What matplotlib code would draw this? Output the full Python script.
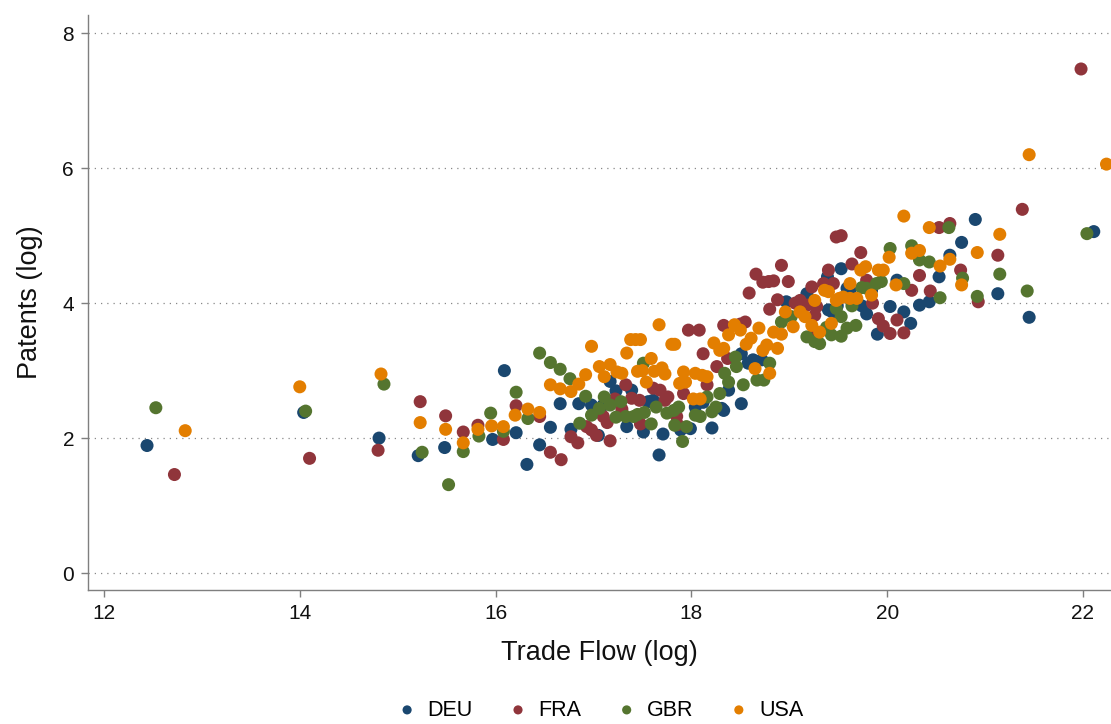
import matplotlib
matplotlib.use('Agg')
import matplotlib.pyplot as plt

plt.rcParams['font.family'] = ['Liberation Sans', 'DejaVu Sans']

# Data: (log trade flow, log patents) per country
deu_x = [12.44, 14.04, 14.81, 15.21, 15.48, 15.97, 16.09, 16.21, 16.32, 16.45, 16.56, 16.66,
         16.77, 16.85, 16.98, 17.05, 17.10, 17.17, 17.23, 17.34, 17.39, 17.51, 17.56, 17.61,
         17.67, 17.71, 17.89, 17.99, 18.04, 18.12, 18.21, 18.31, 18.33, 18.38, 18.51, 18.51,
         18.58, 18.63, 18.72, 18.97, 19.18, 19.39, 19.40, 19.44, 19.49, 19.53, 19.59, 19.62,
         19.74, 19.79, 19.84, 19.90, 20.03, 20.10, 20.17, 20.24, 20.33, 20.43, 20.53, 20.64,
         20.76, 20.90, 21.13, 21.45, 22.11]
deu_y = [1.89, 2.38, 2.00, 1.74, 1.86, 1.98, 3.00, 2.08, 1.61, 1.90, 2.16, 2.51,
         2.13, 2.51, 2.49, 2.04, 2.49, 2.84, 2.70, 2.17, 2.71, 2.09, 2.54, 2.56,
         1.75, 2.06, 2.12, 2.14, 2.46, 2.53, 2.15, 2.44, 2.41, 2.71, 3.25, 2.51,
         3.11, 3.16, 3.16, 4.02, 4.14, 4.39, 3.90, 3.87, 3.96, 4.51, 4.22, 4.19,
         3.96, 3.84, 4.19, 3.54, 3.95, 4.34, 3.87, 3.70, 3.97, 4.02, 4.39, 4.71,
         4.90, 5.24, 4.14, 3.79, 5.06]

fra_x = [12.72, 14.10, 14.80, 15.23, 15.49, 15.67, 15.82, 16.08, 16.21, 16.45, 16.56, 16.67,
         16.77, 16.84, 16.93, 16.98, 17.03, 17.10, 17.14, 17.17, 17.22, 17.29, 17.33, 17.39,
         17.47, 17.48, 17.61, 17.68, 17.73, 17.76, 17.85, 17.86, 17.92, 17.97, 18.08, 18.12,
         18.16, 18.26, 18.33, 18.37, 18.50, 18.55, 18.59, 18.66, 18.73, 18.79, 18.80, 18.84,
         18.88, 18.92, 18.99, 19.06, 19.11, 19.18, 19.23, 19.26, 19.26, 19.28, 19.35, 19.40,
         19.45, 19.48, 19.53, 19.64, 19.73, 19.79, 19.85, 19.91, 19.96, 20.03, 20.10, 20.17,
         20.25, 20.33, 20.44, 20.53, 20.64, 20.75, 20.93, 21.13, 21.38, 21.98]
fra_y = [1.46, 1.70, 1.82, 2.54, 2.33, 2.09, 2.19, 1.98, 2.48, 2.32, 1.79, 1.68,
         2.02, 1.93, 2.17, 2.12, 2.04, 2.32, 2.23, 1.96, 2.58, 2.43, 2.79, 2.59,
         2.56, 2.21, 2.74, 2.71, 2.56, 2.61, 2.32, 2.20, 2.66, 3.60, 3.60, 3.25,
         2.79, 3.06, 3.67, 3.18, 3.69, 3.72, 4.15, 4.43, 4.31, 4.32, 3.91, 4.33,
         4.05, 4.56, 4.32, 4.00, 4.04, 3.97, 4.24, 3.82, 3.53, 3.95, 4.29, 4.49,
         4.29, 4.98, 5.00, 4.58, 4.75, 4.34, 4.00, 3.77, 3.66, 3.55, 3.75, 3.56,
         4.19, 4.41, 4.18, 5.12, 5.18, 4.49, 4.02, 4.71, 5.39, 7.47]

gbr_x = [12.53, 14.06, 14.86, 15.25, 15.52, 15.67, 15.83, 15.95, 16.08, 16.21, 16.33, 16.45,
         16.56, 16.66, 16.76, 16.86, 16.92, 16.98, 17.06, 17.11, 17.17, 17.23, 17.28, 17.33,
         17.41, 17.45, 17.51, 17.52, 17.59, 17.64, 17.75, 17.82, 17.83, 17.87, 17.91, 17.95,
         18.04, 18.09, 18.16, 18.21, 18.25, 18.29, 18.34, 18.38, 18.45, 18.46, 18.53, 18.67,
         18.74, 18.80, 18.92, 19.02, 19.18, 19.26, 19.31, 19.38, 19.43, 19.48, 19.53, 19.53,
         19.59, 19.64, 19.68, 19.74, 19.79, 19.89, 19.94, 20.03, 20.17, 20.25, 20.33, 20.43,
         20.54, 20.63, 20.77, 20.92, 21.15, 21.43, 22.04]
gbr_y = [2.45, 2.40, 2.80, 1.79, 1.31, 1.80, 2.03, 2.37, 2.10, 2.68, 2.29, 3.26,
         3.12, 3.02, 2.88, 2.22, 2.62, 2.34, 2.44, 2.61, 2.49, 2.31, 2.54, 2.32,
         2.32, 2.35, 3.11, 2.38, 2.21, 2.46, 2.37, 2.41, 2.19, 2.46, 1.95, 2.17,
         2.34, 2.32, 2.61, 2.39, 2.46, 2.66, 2.96, 2.83, 3.20, 3.06, 2.79, 2.86,
         2.86, 3.11, 3.72, 3.80, 3.50, 3.43, 3.40, 3.64, 3.53, 3.92, 3.80, 3.51,
         3.63, 3.96, 3.67, 4.23, 4.22, 4.29, 4.32, 4.81, 4.29, 4.85, 4.64, 4.61,
         4.08, 5.12, 4.37, 4.10, 4.43, 4.18, 5.03]

usa_x = [12.83, 14.00, 14.83, 15.23, 15.49, 15.67, 15.82, 15.96, 16.08, 16.20, 16.33, 16.45,
         16.56, 16.66, 16.77, 16.85, 16.92, 16.98, 17.06, 17.11, 17.17, 17.24, 17.29, 17.34,
         17.38, 17.43, 17.48, 17.45, 17.50, 17.54, 17.59, 17.62, 17.67, 17.70, 17.73, 17.80,
         17.83, 17.88, 17.92, 17.94, 18.02, 18.04, 18.09, 18.11, 18.16, 18.23, 18.29, 18.33,
         18.38, 18.44, 18.50, 18.56, 18.61, 18.65, 18.69, 18.73, 18.77, 18.80, 18.84, 18.88,
         18.92, 18.96, 19.04, 19.11, 19.16, 19.23, 19.26, 19.31, 19.36, 19.40, 19.43, 19.48,
         19.51, 19.55, 19.62, 19.62, 19.69, 19.73, 19.78, 19.84, 19.91, 19.96, 20.02, 20.09,
         20.17, 20.25, 20.33, 20.43, 20.54, 20.64, 20.76, 20.92, 21.15, 21.45, 22.24]
usa_y = [2.11, 2.76, 2.95, 2.23, 2.13, 1.93, 2.13, 2.18, 2.17, 2.34, 2.43, 2.38,
         2.79, 2.73, 2.69, 2.80, 2.94, 3.36, 3.06, 2.91, 3.09, 2.98, 2.96, 3.26,
         3.46, 3.46, 3.46, 2.99, 3.00, 2.83, 3.18, 2.99, 3.68, 3.04, 2.95, 3.39,
         3.39, 2.81, 2.98, 2.83, 2.58, 2.96, 2.58, 2.93, 2.91, 3.41, 3.30, 3.33,
         3.53, 3.68, 3.60, 3.39, 3.48, 3.03, 3.63, 3.30, 3.38, 2.96, 3.57, 3.33,
         3.54, 3.87, 3.65, 3.87, 3.80, 3.67, 4.04, 3.57, 4.19, 4.17, 3.70, 4.04,
         4.07, 4.09, 4.07, 4.29, 4.07, 4.49, 4.54, 4.12, 4.49, 4.49, 4.68, 4.27,
         5.29, 4.74, 4.78, 5.12, 4.55, 4.65, 4.27, 4.75, 5.02, 6.20, 6.06]

countries = ['DEU', 'FRA', 'GBR', 'USA']
xs = [deu_x, fra_x, gbr_x, usa_x]
ys = [deu_y, fra_y, gbr_y, usa_y]
colors = ['#1a476f', '#90353b', '#55752f', '#e37e00']

fig = plt.figure(figsize=(11.11, 7.24), dpi=100)
ax = fig.add_axes([0.0792, 0.185, 0.9208, 0.794])

for name, x, y, c in zip(countries, xs, ys, colors):
    ax.scatter(x, y, s=88, color=c, edgecolors='none', label=name, zorder=3)

ax.set_xlim(11.837, 22.286)
ax.set_ylim(-0.252, 8.267)
ax.set_xticks([12, 14, 16, 18, 20, 22])
ax.set_yticks([0, 2, 4, 6, 8])
ax.yaxis.grid(True, linestyle=(0, (1, 4)), color='#888888', linewidth=0.9)
ax.set_axisbelow(True)

for side in ['top', 'right']:
    ax.spines[side].set_visible(False)
for side in ['left', 'bottom']:
    ax.spines[side].set_color('#7f7f7f')
    ax.spines[side].set_linewidth(1.0)
ax.tick_params(axis='both', direction='out', length=5, width=1.0, color='#7f7f7f',
               labelsize=15, labelcolor='#111111', pad=5)

ax.set_xlabel('Trade Flow (log)', fontsize=19.5, color='#111111', labelpad=12)
ax.set_ylabel('Patents (log)', fontsize=19.5, color='#111111', labelpad=14)

fig.legend(loc='lower center', bbox_to_anchor=(0.54, -0.022), ncol=4, frameon=False,
           fontsize=15.5, markerscale=0.7, handlelength=1.0, handletextpad=0.45,
           columnspacing=1.6)

fig.savefig('out.png', dpi=100)
